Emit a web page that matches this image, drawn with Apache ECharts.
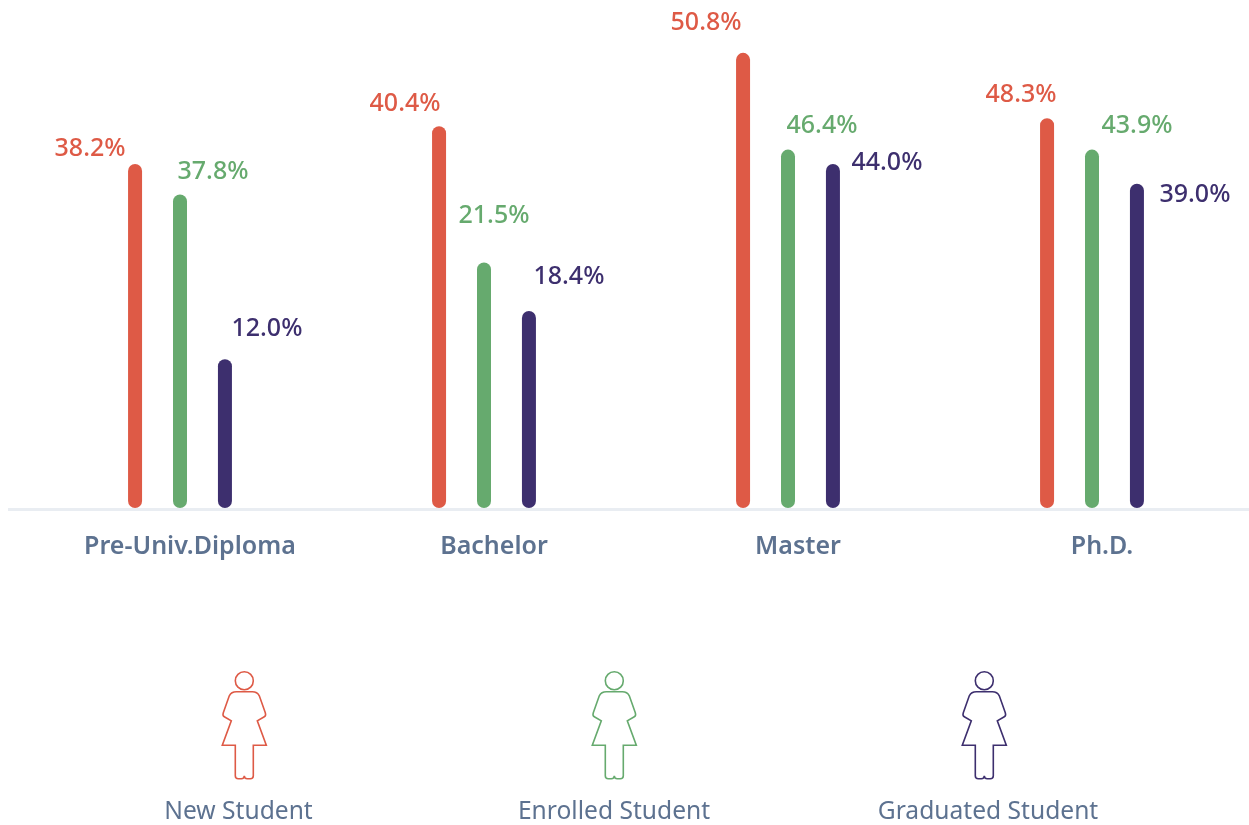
<!DOCTYPE html>
<html><head><meta charset="utf-8">
<style>html,body{margin:0;padding:0;background:#fff}#c{width:1249px;height:825px}</style>
<script src="https://cdn.jsdelivr.net/npm/echarts@6/dist/echarts.min.js"></script>
</head><body><div id="c"></div>
<script>
// Categories and series names
const categories = ['Pre-Univ.Diploma', 'Bachelor', 'Master', 'Ph.D.'];
const seriesNames = ['New Student', 'Enrolled Student', 'Graduated Student'];
// Printed labels (as they read in the picture)
const newLabels = [38.2, 40.4, 50.8, 48.3];
const enrolledLabels = [37.8, 21.5, 46.4, 43.9];
const graduatedLabels = [12.0, 18.4, 44.0, 39.0];
// Bar lengths as drawn in the picture: they do not follow the printed labels,
// expressed on the scale where the tallest bar equals its label (50.8)
const newBars = [38.4, 42.6, 50.8, 43.5];
const enrolledBars = [35.0, 27.4, 40.0, 40.0];
const graduatedBars = [16.6, 22.0, 38.4, 36.2];
// Label offsets from each bar's top
const newOffsets = [[-45,-15],[-34,-22],[-37,-30],[-26,-23]];
const enrolledOffsets = [[33,-23],[10,-47],[34,-24],[45,-24]];
const graduatedOffsets = [[42,-30],[40,-34],[54,-1],[58,11]];

const colors = ['#de5a46', '#66aa6e', '#3d2f6e'];
const textColor = '#5d7290';
const fontFamily = '"Noto Sans", sans-serif';
const figure = 'path://M -8 32 L 8 32 Q 13 32 15 36 L 21 53 Q 22 56 20 57 L 13 61 L 22 85.5 L 9 85.5 L 9 116 Q 9 119 6 119 L 3 119 Q 0 119 0 116 Q 0 119 -3 119 L -6 119 Q -9 119 -9 116 L -9 85.5 L -22 85.5 L -13 61 L -20 57 Q -22 56 -21 53 L -15 36 Q -13 32 -8 32 Z M 9 21 A 9 9 0 1 1 -9 21 A 9 9 0 1 1 9 21 Z';
const legendIconX = [244, 614, 984];
const legendTextX = [238.5, 614, 988];

function makeSeries(i, bars, labels, offsets) {
  return {
    name: seriesNames[i], type: 'bar', barWidth: 14, barGap: '221%',
    itemStyle: { color: colors[i], borderRadius: 7 },
    data: bars.map((v, k) => ({
      value: v,
      label: {
        show: true, position: ['50%', 0], align: 'center', verticalAlign: 'middle',
        offset: offsets[k], formatter: labels[k].toFixed(1) + '%',
        color: colors[i], fontFamily, fontSize: 25, fontWeight: 500
      }
    }))
  };
}

const chart = echarts.init(document.getElementById('c'), null, { renderer: 'canvas' });
chart.setOption({
  animation: false,
  backgroundColor: '#fff',
  grid: { left: 28, right: 5, top: 4, height: 504 },
  xAxis: {
    type: 'category', data: categories,
    axisLine: { show: false }, axisTick: { show: false },
    axisLabel: { margin: 26, padding: [0, 0, 0, 20], color: textColor, fontFamily, fontSize: 25, fontWeight: 600 }
  },
  yAxis: { type: 'value', min: 0, max: 56.25, show: false, splitLine: { show: false } },
  legend: seriesNames.map((n, i) => ({
    data: [n], left: legendIconX[i] - 22.5, top: 671, padding: 0,
    icon: figure, itemWidth: 44, itemHeight: 107, selectedMode: false,
    formatter: () => '',
    itemStyle: { color: 'transparent', borderColor: colors[i], borderWidth: 1.6 }
  })),
  series: [
    makeSeries(0, newBars, newLabels, newOffsets),
    makeSeries(1, enrolledBars, enrolledLabels, enrolledOffsets),
    makeSeries(2, graduatedBars, graduatedLabels, graduatedOffsets)
  ],
  graphic: [
    { type: 'line', shape: { x1: 8, y1: 509.5, x2: 1249, y2: 509.5 }, style: { stroke: '#e9edf2', lineWidth: 3 }, z: 0 },
    ...seriesNames.map((n, i) => (
      { type: 'text', x: legendTextX[i], y: 812, style: { text: n, fill: textColor, font: '400 24.6px ' + fontFamily, textAlign: 'center', textVerticalAlign: 'middle' } }
    ))
  ]
});
</script></body></html>
